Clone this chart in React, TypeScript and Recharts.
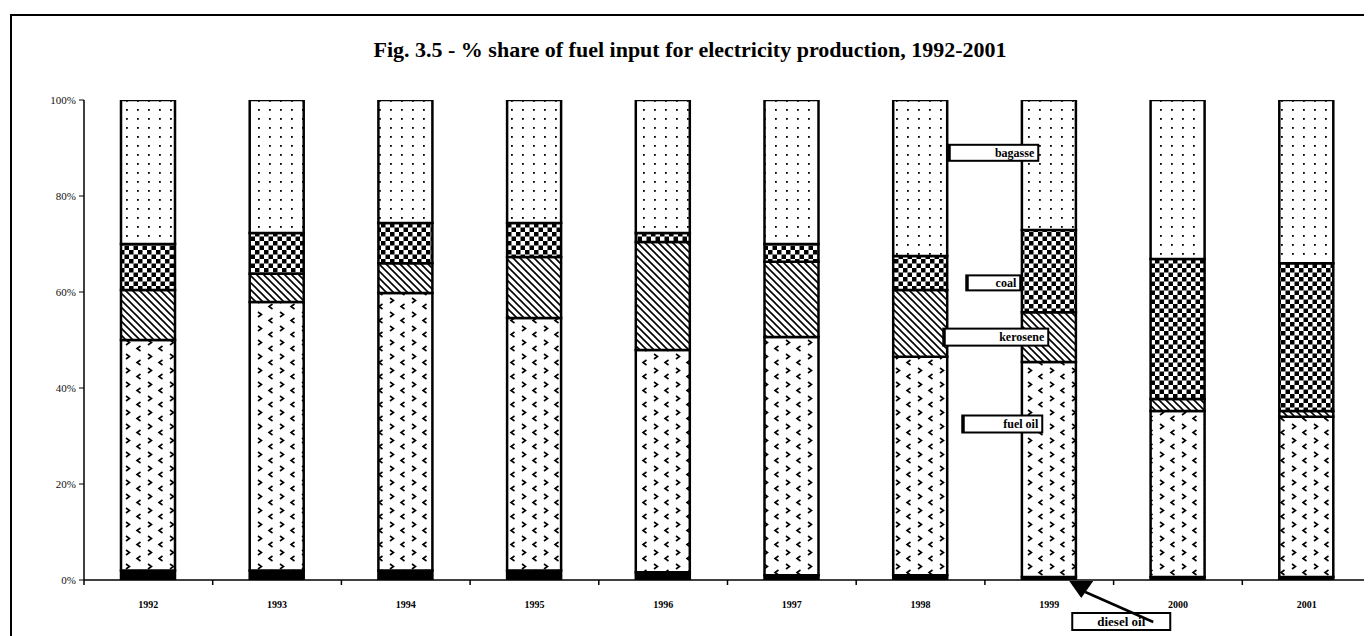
import React from 'react';
import { BarChart, Bar, XAxis, YAxis, ReferenceDot } from 'recharts';

const years = ['1992', '1993', '1994', '1995', '1996', '1997', '1998', '1999', '2000', '2001'];
const dieselOil = [2, 2, 2, 2, 1.6, 1, 1, 0.6, 0.6, 0.6];
const fuelOil = [48, 55.9, 57.8, 52.6, 46.3, 49.6, 45.5, 44.8, 34.6, 33.4];
const kerosene = [10.4, 5.9, 6.2, 12.7, 22.5, 15.7, 13.9, 10.4, 2.5, 1.2];
const coal = [9.6, 8.5, 8.4, 7.1, 1.9, 3.7, 7.1, 17.1, 29.2, 30.8];
const bagasse = [30, 27.7, 25.6, 25.6, 27.7, 30, 32.5, 27.1, 33.1, 34];
const yTicks = [0, 20, 40, 60, 80, 100];

const calloutYear = '1999';
const calloutLabels = ['bagasse', 'coal', 'kerosene', 'fuel oil', 'diesel oil'];
const calloutValues = [89, 61.9, 50.6, 32.5, 0];

const data = years.map((y, i) => ({
  year: y,
  diesel: dieselOil[i],
  fuel: fuelOil[i],
  kerosene: kerosene[i],
  coal: coal[i],
  bagasse: bagasse[i],
}));

const SERIF = '"Liberation Serif", "Times New Roman", serif';

// box offsets relative to anchor point (style only)
const boxGeom = [
  { x0: -101, x1: -11, h: 16 },
  { x0: -83, x1: -29, h: 15 },
  { x0: -106, x1: -1, h: 17 },
  { x0: -87, x1: -7, h: 17 },
];

const makeBox = (idx: number) => (props: any) => {
  const { cx, cy } = props;
  const g = boxGeom[idx];
  return (
    <g>
      <rect x={cx + g.x0} y={cy - g.h / 2} width={g.x1 - g.x0} height={g.h} fill="#fff" stroke="#000" strokeWidth={2} />
      <line x1={cx + g.x0 + 1.5} x2={cx + g.x0 + 1.5} y1={cy - g.h / 2} y2={cy + g.h / 2} stroke="#000" strokeWidth={2} />
      <text x={cx + g.x1 - 4} y={cy + 4} textAnchor="end" fontFamily={SERIF} fontWeight="bold" fontSize={12} fill="#000">
        {calloutLabels[idx]}
      </text>
    </g>
  );
};

const dieselShape = (props: any) => {
  const { cx, cy } = props;
  return (
    <g>
      <line x1={cx + 36} y1={cy + 12} x2={cx + 104} y2={cy + 42} stroke="#000" strokeWidth={2.5} />
      <polygon points={`${cx + 20},${cy + 1} ${cx + 44},${cy + 1} ${cx + 32},${cy + 18}`} fill="#000" />
      <rect x={cx + 23} y={cy + 33} width={98} height={17} fill="none" stroke="#000" strokeWidth={2} />
      <text x={cx + 72} y={cy + 46} textAnchor="middle" fontFamily={SERIF} fontWeight="bold" fontSize={13} fill="#000">
        {calloutLabels[4]}
      </text>
    </g>
  );
};

const XTick = (props: any) => {
  const { x, y, payload, width, visibleTicksCount } = props;
  let off = payload && typeof payload.offset === 'number' ? payload.offset : 0;
  if (!off && width && visibleTicksCount) off = width / visibleTicksCount / 2;
  return (
    <g>
      <line x1={x - off} x2={x - off} y1={y} y2={y + 5} stroke="#000" strokeWidth={1.5} />
      <text x={x} y={y + 28} textAnchor="middle" fontFamily={SERIF} fontWeight="bold" fontSize={10} fill="#000">
        {payload.value}
      </text>
    </g>
  );
};

export default function App() {
  return (
    <div
      style={{
        position: 'fixed',
        left: 10,
        top: 14,
        width: 1352,
        height: 620,
        borderLeft: '2px solid #000',
        borderTop: '2px solid #000',
        background: '#fff',
        overflow: 'hidden',
      }}
    >
      <style>{'html,body{overflow:hidden;margin:0}'}</style>
      <div
        style={{
          position: 'absolute',
          left: 0,
          width: 1356,
          top: 21,
          textAlign: 'center',
          fontFamily: SERIF,
          fontWeight: 'bold',
          fontSize: 22,
          lineHeight: '26px',
          color: '#000',
        }}
      >
        Fig. 3.5 - % share of fuel input for electricity production, 1992-2001
      </div>
      <BarChart
        width={1380}
        height={620}
        data={data}
        margin={{ top: 84, right: 21, left: 0, bottom: 26 }}
        barSize={54}
        style={{ position: 'absolute', left: 0, top: 0 }}
      >
        <defs>
          <pattern id="pDots" width={11} height={9} patternUnits="userSpaceOnUse">
            <rect width={11} height={9} fill="#fff" />
            <rect x={4} y={3} width={1.8} height={1.8} fill="#000" />
          </pattern>
          <pattern id="pChecker" width={9} height={9} patternUnits="userSpaceOnUse">
            <rect width={9} height={9} fill="#fff" />
            <rect x={0} y={0} width={4.5} height={4.5} fill="#000" />
            <rect x={4.5} y={4.5} width={4.5} height={4.5} fill="#000" />
          </pattern>
          <pattern id="pHatch" width={7} height={7} patternUnits="userSpaceOnUse">
            <rect width={7} height={7} fill="#fff" />
            <path d="M-1,-1 L8,8 M-1,6 L1,8 M6,-1 L8,1" stroke="#000" strokeWidth={1.6} />
          </pattern>
          <pattern id="pChevron" width={22} height={14} patternUnits="userSpaceOnUse">
            <rect width={22} height={14} fill="#fff" />
            <polyline points="4,2 7.5,4.5 4,7" fill="none" stroke="#000" strokeWidth={1.6} />
            <polyline points="18.5,8 15,10.5 18.5,13" fill="none" stroke="#000" strokeWidth={1.6} />
          </pattern>
        </defs>
        <XAxis
          dataKey="year"
          height={30}
          tickSize={0}
          tickMargin={0}
          tickLine={false}
          axisLine={{ stroke: '#000', strokeWidth: 1.5 }}
          tick={<XTick />}
          interval={0}
        />
        <YAxis
          width={72}
          domain={[0, 100]}
          ticks={yTicks}
          tickFormatter={(v: number) => `${v}%`}
          tickSize={5}
          tickMargin={3}
          axisLine={{ stroke: '#000', strokeWidth: 1.5 }}
          tickLine={{ stroke: '#000' }}
          tick={{ fontFamily: SERIF, fontSize: 11, fill: '#111' }}
          allowDataOverflow
        />
        <Bar dataKey="diesel" stackId="a" fill="#000" stroke="#000" strokeWidth={2.5} isAnimationActive={false} />
        <Bar dataKey="fuel" stackId="a" fill="url(#pChevron)" stroke="#000" strokeWidth={2.5} isAnimationActive={false} />
        <Bar dataKey="kerosene" stackId="a" fill="url(#pHatch)" stroke="#000" strokeWidth={2.5} isAnimationActive={false} />
        <Bar dataKey="coal" stackId="a" fill="url(#pChecker)" stroke="#000" strokeWidth={2.5} isAnimationActive={false} />
        <Bar dataKey="bagasse" stackId="a" fill="url(#pDots)" stroke="#000" strokeWidth={2.5} isAnimationActive={false} />
        {calloutValues.slice(0, 4).map((v, i) => (
          <ReferenceDot key={calloutLabels[i]} x={calloutYear} y={v} r={0} ifOverflow="visible" shape={makeBox(i)} />
        ))}
        <ReferenceDot x={calloutYear} y={calloutValues[4]} r={0} ifOverflow="visible" shape={dieselShape} />
      </BarChart>
    </div>
  );
}
